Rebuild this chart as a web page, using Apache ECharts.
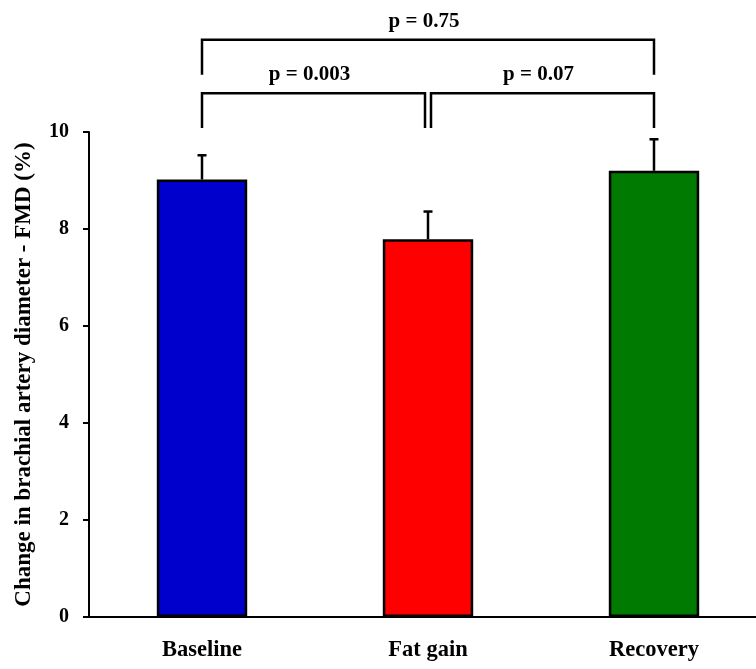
<!DOCTYPE html>
<html><head><meta charset="utf-8">
<script src="https://cdn.jsdelivr.net/npm/echarts@6/dist/echarts.min.js"></script>
<style>html,body{margin:0;padding:0;background:#fff}#c{width:756px;height:669px}</style>
</head><body><div id="c"></div>
<script>
var categories = ['Baseline', 'Fat gain', 'Recovery'];
var values = [9.02, 7.79, 9.20];
var errors = [0.50, 0.57, 0.65];
var barColors = ['#0000CC', '#FF0000', '#007A00'];
var yTicks = [0, 2, 4, 6, 8, 10];
var bracketFrom = [0, 1, 0];
var bracketTo = [1, 2, 2];
var bracketLevel = [10.8, 10.8, 11.9];
var bracketDrop = [10.08, 10.08, 11.18];
var bracketLabels = ['p = 0.003', 'p = 0.07', 'p = 0.75'];

var FONT = 'Liberation Serif';
var chart = echarts.init(document.getElementById('c'));

var barData = values.map(function (v, i) {
  return { value: v, itemStyle: { color: barColors[i] } };
});
var errData = values.map(function (v, i) { return [i, v, v + errors[i]]; });
var brData = bracketLabels.map(function (l, i) {
  return [bracketFrom[i], bracketTo[i], bracketLevel[i], bracketDrop[i], i];
});

chart.setOption({
  animation: false,
  grid: { left: 89, top: 132, width: 678, height: 485, containLabel: false, outerBoundsMode: 'none' },
  xAxis: {
    type: 'category', data: categories,
    axisLine: { lineStyle: { color: '#000', width: 2 } },
    axisTick: { show: false },
    axisLabel: { color: '#000', fontFamily: FONT, fontWeight: 'bold', fontSize: 22.5, margin: 22 }
  },
  yAxis: {
    type: 'value', min: 0, max: 10, interval: 2,
    name: 'Change in brachial artery diameter - FMD (%)',
    nameLocation: 'middle', nameGap: 53, nameRotate: 90,
    nameTextStyle: { color: '#000', fontFamily: FONT, fontWeight: 'bold', fontSize: 23 },
    axisLine: { show: true, lineStyle: { color: '#000', width: 2 } },
    axisTick: { show: true, length: 6, lineStyle: { color: '#000', width: 2 } },
    splitLine: { show: false },
    axisLabel: {
      color: '#000', fontFamily: FONT, fontWeight: 'bold', fontSize: 20, margin: 20,
      padding: [4, 0, 0, 0],
      formatter: function (v) { return yTicks.indexOf(v) >= 0 ? String(v) : ''; }
    }
  },
  series: [
    {
      type: 'bar', data: barData, barWidth: '40%',
      itemStyle: { borderColor: '#000', borderWidth: 2.5 }, z: 2
    },
    {
      type: 'custom', data: errData, z: 1, clip: false,
      renderItem: function (params, api) {
        var x = api.value(0);
        var p0 = api.coord([x, api.value(1)]);
        var p1 = api.coord([x, api.value(2)]);
        return {
          type: 'group', children: [
            { type: 'line', shape: { x1: p0[0], y1: p0[1], x2: p1[0], y2: p1[1] }, style: { stroke: '#000', lineWidth: 2.5 } },
            { type: 'line', shape: { x1: p1[0] - 4.5, y1: p1[1], x2: p1[0] + 4.5, y2: p1[1] }, style: { stroke: '#000', lineWidth: 2.5 } }
          ]
        };
      }
    },
    {
      type: 'custom', data: brData, z: 3, clip: false,
      renderItem: function (params, api) {
        var i = api.value(4);
        var a = api.coord([api.value(0), api.value(2)]);
        var b = api.coord([api.value(1), api.value(2)]);
        var ad = api.coord([api.value(0), api.value(3)]);
        var x1 = a[0], x2 = b[0];
        if (i === 0) { x2 -= 3; }
        if (i === 1) { x1 += 3; }
        var y = a[1], yd = ad[1];
        return {
          type: 'group', children: [
            { type: 'polyline', shape: { points: [[x1, yd], [x1, y], [x2, y], [x2, yd]] }, style: { stroke: '#000', lineWidth: 2.5, fill: null } },
            { type: 'text', x: (x1 + x2) / 2 - 4, y: y - 8, style: { text: bracketLabels[i], fill: '#000', font: 'bold 21px "' + FONT + '"', align: 'center', verticalAlign: 'bottom' } }
          ]
        };
      }
    }
  ]
});
</script></body></html>
